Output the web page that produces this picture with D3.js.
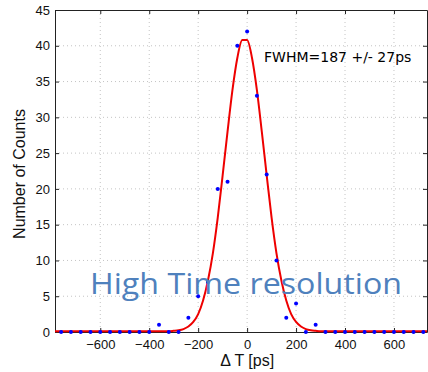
<!DOCTYPE html>
<html>
<head>
<meta charset="utf-8">
<script src="https://cdn.jsdelivr.net/npm/d3@7"></script>
<style>
  body { margin: 0; background: #fff; }
  svg { display: block; }
</style>
</head>
<body>
<div id="chart"></div>
<script>
// Measured histogram points (Delta T in ps, counts)
const binCenters = [-760, -720, -680, -640, -600, -560, -520, -480, -440, -400, -360, -320, -280, -240, -200, -160, -120, -80, -40, 0,
    40, 80, 120, 160, 200, 240, 280, 320, 360, 400, 440, 480, 520, 560, 600, 640, 680, 720];
const counts = [0, 0, 0, 0, 0, 0, 0, 0, 0, 0, 1, 0, 0, 2, 5, 7, 20, 21, 40, 42,
    33, 22, 10, 2, 4, 0, 1, 0, 0, 0, 0, 0, 0, 0, 0, 0, 0, 0];

// Fitted curve
const fitX = [-785, -340, -320, -300, -280, -260, -240, -220, -200, -180, -160, -140, -120, -100, -80, -60, -40, -20, 0,
    20, 40, 60, 80, 100, 120, 140, 160, 180, 200, 220, 240, 260, 280, 300, 320, 735];
const fitY = [0.1, 0.1, 0.1, 0.16, 0.24, 0.41, 0.76, 1.4, 2.5, 4.4, 7.2, 11.0, 16.0, 21.9, 28.0, 33.8, 38.3, 40.8, 40.8,
    38.3, 33.8, 28.0, 21.9, 16.0, 11.0, 7.2, 4.4, 2.5, 1.4, 0.76, 0.41, 0.24, 0.16, 0.1, 0.1, 0.1];

const xTicks = [-600, -400, -200, 0, 200, 400, 600];
const yTicks = [0, 5, 10, 15, 20, 25, 30, 35, 40, 45];

const width = 428, height = 372;
const margin = { top: 10, right: 1, bottom: 40, left: 55 };
const innerW = width - margin.left - margin.right;
const innerH = height - margin.top - margin.bottom;

const svg = d3.select('#chart').append('svg')
    .attr('width', width)
    .attr('height', height);

const g = svg.append('g')
    .attr('transform', `translate(${margin.left},${margin.top})`);

const x = d3.scaleLinear().domain([-785, 735]).range([0, innerW]);
const y = d3.scaleLinear().domain([0, 45]).range([innerH, 0]);

// grid
g.append('g').selectAll('line.vg')
    .data(xTicks)
    .join('line')
    .attr('x1', d => x(d)).attr('x2', d => x(d))
    .attr('y1', 0).attr('y2', innerH)
    .attr('stroke', '#c4c4c4')
    .attr('stroke-width', 1)
    .attr('stroke-dasharray', '1,3');

g.append('g').selectAll('line.hg')
    .data(yTicks.slice(1, -1))
    .join('line')
    .attr('x1', 0).attr('x2', innerW)
    .attr('y1', d => y(d)).attr('y2', d => y(d))
    .attr('stroke', '#c4c4c4')
    .attr('stroke-width', 1)
    .attr('stroke-dasharray', '1,3');

// axes (ticks pointing inward like matlab)
const fmt = d => d < 0 ? '\u2212' + Math.abs(d) : String(d);

const xAxis = g.append('g')
    .attr('transform', `translate(0,${innerH})`)
    .call(d3.axisBottom(x).tickValues(xTicks).tickSizeInner(-4).tickSizeOuter(0).tickPadding(8).tickFormat(fmt));

const yAxis = g.append('g')
    .call(d3.axisLeft(y).tickValues(yTicks).tickSizeInner(-4).tickSizeOuter(0).tickPadding(5).tickFormat(fmt));

g.append('g')
    .call(d3.axisTop(x).tickValues(xTicks).tickSizeInner(-4).tickSizeOuter(0).tickFormat(''));
g.append('g')
    .attr('transform', `translate(${innerW},0)`)
    .call(d3.axisRight(y).tickValues(yTicks).tickSizeInner(-4).tickSizeOuter(0).tickFormat(''));

svg.selectAll('.domain').attr('stroke', '#222');
svg.selectAll('.tick line').attr('stroke', '#222');
svg.selectAll('.tick text')
    .attr('font-family', '"Liberation Sans", Arial, sans-serif')
    .attr('font-size', 13)
    .attr('fill', '#111');

// fitted curve
const line = d3.line()
    .x((d, i) => x(fitX[i]))
    .y(d => y(d))
    .curve(d3.curveMonotoneX);

g.append('path')
    .datum(fitY)
    .attr('fill', 'none')
    .attr('stroke', '#ee0000')
    .attr('stroke-width', 2)
    .attr('d', line);

// data points
g.append('g').selectAll('circle')
    .data(counts)
    .join('circle')
    .attr('cx', (d, i) => x(binCenters[i]))
    .attr('cy', d => y(d))
    .attr('r', 2)
    .attr('fill', '#0000ff');

// labels
svg.append('text')
    .attr('x', margin.left + x(0))
    .attr('y', 366)
    .attr('text-anchor', 'middle')
    .attr('font-family', '"Liberation Sans", Arial, sans-serif')
    .attr('font-size', 16)
    .attr('fill', '#111')
    .text('\u0394 T [ps]');

svg.append('text')
    .attr('transform', 'translate(25,174) rotate(-90)')
    .attr('text-anchor', 'middle')
    .attr('font-family', '"Liberation Sans", Arial, sans-serif')
    .attr('font-size', 16)
    .attr('fill', '#111')
    .text('Number of Counts');

svg.append('text')
    .attr('x', 264)
    .attr('y', 62)
    .attr('font-family', '"DejaVu Sans", sans-serif')
    .attr('font-size', 14)
    .attr('fill', '#000')
    .text('FWHM=187 +/- 27ps');

svg.append('text')
    .attr('x', 90)
    .attr('y', 294)
    .attr('font-family', '"Open Sans", Lato, sans-serif')
    .attr('font-size', 29)
    .attr('fill', '#4f81bd')
    .attr('textLength', 312)
    .attr('lengthAdjust', 'spacingAndGlyphs')
    .text('High Time resolution');
</script>
</body>
</html>
